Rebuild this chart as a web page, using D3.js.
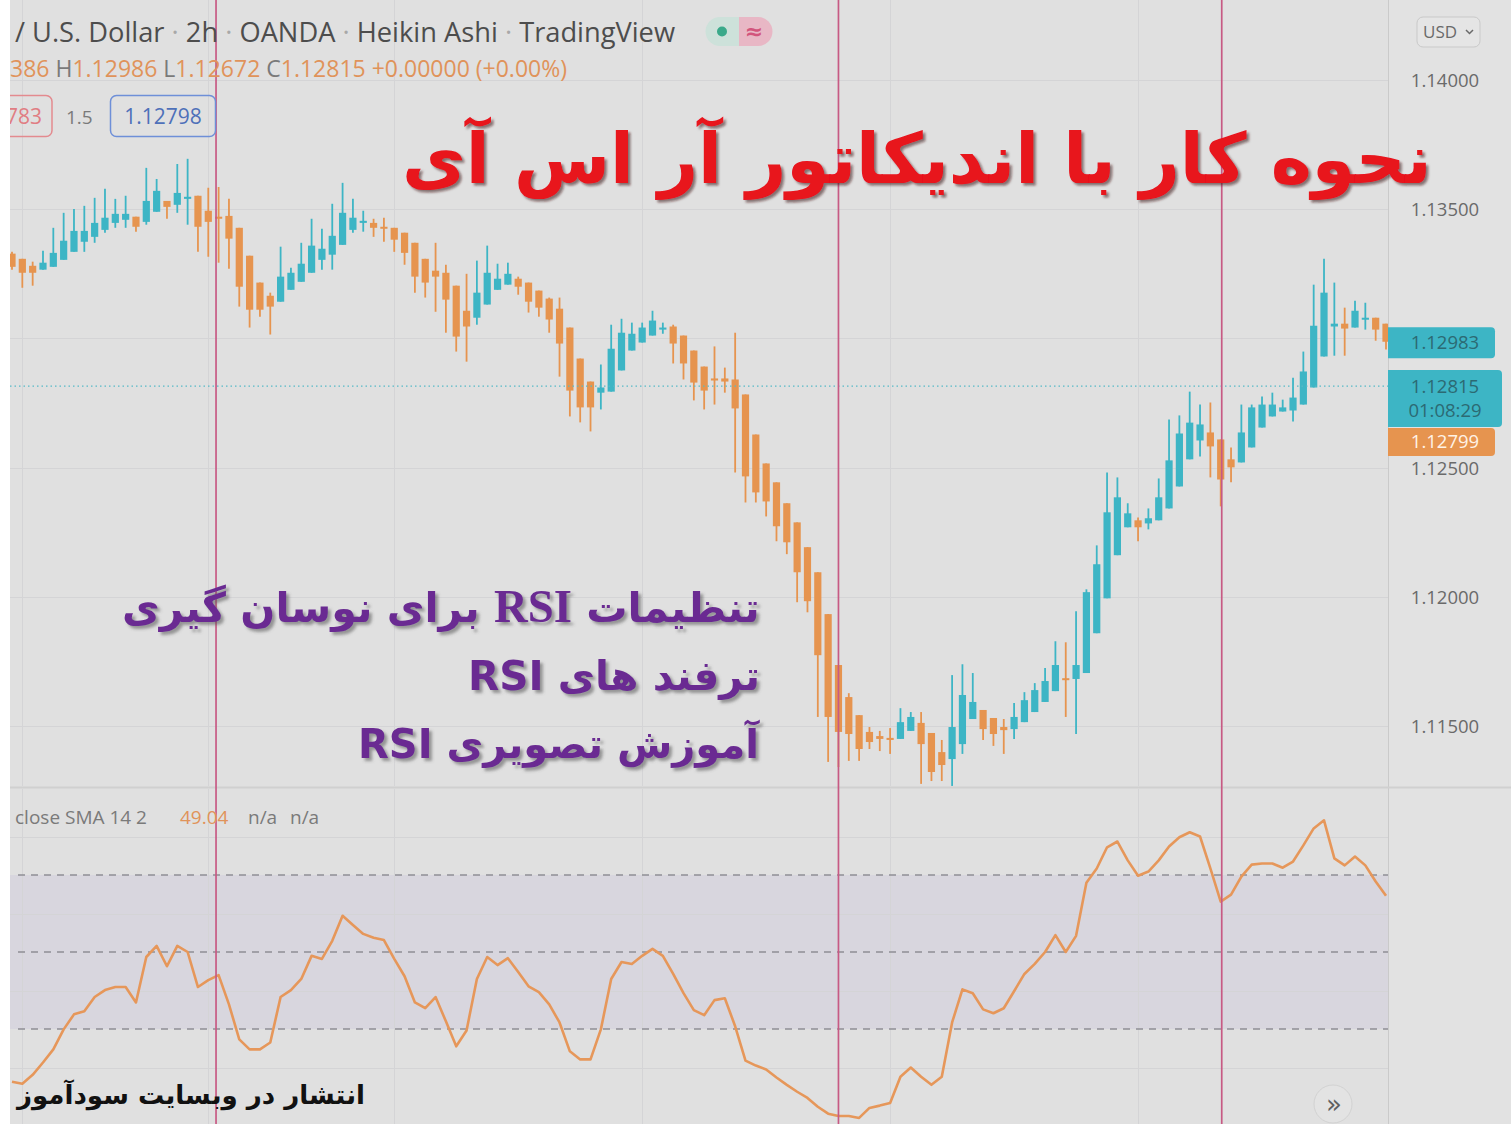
<!DOCTYPE html>
<html><head><meta charset="utf-8">
<script src="https://cdn.jsdelivr.net/npm/d3@7"></script>
<style>html,body{margin:0;padding:0;background:#fff;overflow:hidden}</style>
</head><body><svg id="c" width="1511" height="1127" xmlns="http://www.w3.org/2000/svg"></svg>
<script>
// ---------- DATA (Heikin Ashi candles, EUR/USD 2h) ----------
const open=[1.13328,1.13308,1.13281,1.13266,1.13277,1.13304,1.13335,1.13374,1.13393,1.13420,
1.13447,1.13459,1.13471,1.13451,1.13490,1.13532,1.13517,1.13540,1.13552,1.13494,
1.13471,1.13474,1.13428,1.13320,1.13216,1.13165,1.13142,1.13188,1.13219,1.13254,
1.13304,1.13324,1.13362,1.13420,1.13447,1.13447,1.13432,1.13428,1.13409,1.13370,
1.13308,1.13262,1.13254,1.13204,1.13107,1.13080,1.13131,1.13188,1.13208,1.13231,
1.13216,1.13185,1.13154,1.13115,1.13042,1.12922,1.12833,1.12790,1.12794,1.12876,
1.12953,1.12984,1.13011,1.13034,1.13046,1.13011,1.12953,1.12891,1.12845,1.12845,
1.12841,1.12783,1.12628,1.12516,1.12443,1.12362,1.12288,1.12192,1.12095,1.11933,
1.11736,1.11612,1.11542,1.11477,1.11461,1.11454,1.11450,1.11481,1.11512,1.11473,
1.11399,1.11372,1.11430,1.11527,1.11562,1.11531,1.11496,1.11488,1.11515,1.11554,
1.11593,1.11635,1.11685,1.11682,1.11705,1.11859,1.11994,1.12161,1.12269,1.12296,
1.12284,1.12296,1.12342,1.12427,1.12532,1.12605,1.12636,1.12609,1.12532,1.12520,
1.12578,1.12655,1.12698,1.12717,1.12721,1.12744,1.12810,1.12930,1.13046,1.13057,
1.13042,1.13073,1.13080,1.13057];
const high=[1.13335,1.13308,1.13297,1.13339,1.13428,1.13486,1.13501,1.13513,1.13544,1.13579,
1.13540,1.13552,1.13471,1.13660,1.13617,1.13532,1.13675,1.13695,1.13552,1.13583,
1.13586,1.13540,1.13428,1.13320,1.13216,1.13177,1.13355,1.13273,1.13370,1.13463,
1.13424,1.13521,1.13602,1.13540,1.13494,1.13463,1.13467,1.13428,1.13409,1.13370,
1.13308,1.13370,1.13285,1.13204,1.13250,1.13301,1.13359,1.13289,1.13293,1.13239,
1.13216,1.13185,1.13158,1.13158,1.13042,1.12922,1.12833,1.12899,1.13053,1.13076,
1.13061,1.13061,1.13107,1.13061,1.13053,1.13011,1.12953,1.12891,1.12969,1.12887,
1.13022,1.12783,1.12628,1.12516,1.12443,1.12362,1.12288,1.12192,1.12095,1.11933,
1.11736,1.11627,1.11542,1.11496,1.11481,1.11492,1.11569,1.11554,1.11554,1.11473,
1.11446,1.11697,1.11739,1.11705,1.11562,1.11531,1.11527,1.11589,1.11631,1.11666,
1.11724,1.11828,1.11824,1.11944,1.12029,1.12199,1.12481,1.12462,1.12362,1.12307,
1.12342,1.12458,1.12686,1.12702,1.12794,1.12744,1.12752,1.12609,1.12578,1.12744,
1.12744,1.12775,1.12790,1.12763,1.12848,1.12949,1.13208,1.13308,1.13216,1.13119,
1.13146,1.13138,1.13080,1.13057];
const low=[1.13266,1.13196,1.13204,1.13266,1.13277,1.13304,1.13335,1.13335,1.13370,1.13409,
1.13428,1.13428,1.13413,1.13440,1.13490,1.13463,1.13486,1.13440,1.13335,1.13316,
1.13293,1.13270,1.13123,1.13042,1.13084,1.13015,1.13142,1.13188,1.13219,1.13254,
1.13266,1.13266,1.13362,1.13409,1.13413,1.13393,1.13374,1.13335,1.13285,1.13177,
1.13158,1.13103,1.13022,1.12949,1.12910,1.13053,1.13131,1.13188,1.13208,1.13169,
1.13100,1.13084,1.13022,1.12852,1.12698,1.12675,1.12640,1.12725,1.12794,1.12876,
1.12953,1.12984,1.13011,1.13018,1.12903,1.12841,1.12760,1.12725,1.12744,1.12790,
1.12481,1.12365,1.12365,1.12311,1.12215,1.12165,1.11979,1.11940,1.11535,1.11361,
1.11341,1.11365,1.11365,1.11411,1.11403,1.11392,1.11450,1.11481,1.11276,1.11287,
1.11287,1.11268,1.11392,1.11527,1.11446,1.11423,1.11392,1.11450,1.11515,1.11554,
1.11593,1.11635,1.11535,1.11469,1.11705,1.11859,1.11994,1.12161,1.12269,1.12215,
1.12261,1.12296,1.12342,1.12427,1.12532,1.12543,1.12462,1.12350,1.12443,1.12520,
1.12578,1.12655,1.12698,1.12717,1.12678,1.12744,1.12810,1.12930,1.12933,1.12933,
1.13042,1.13034,1.12991,1.12957];
const close=[1.13277,1.13254,1.13254,1.13293,1.13331,1.13378,1.13416,1.13416,1.13447,1.13467,
1.13482,1.13482,1.13432,1.13532,1.13571,1.13509,1.13563,1.13548,1.13432,1.13451,
1.13463,1.13386,1.13200,1.13111,1.13111,1.13123,1.13239,1.13254,1.13289,1.13359,
1.13347,1.13397,1.13486,1.13467,1.13455,1.13428,1.13428,1.13382,1.13331,1.13239,
1.13216,1.13239,1.13150,1.13007,1.13046,1.13177,1.13254,1.13231,1.13250,1.13200,
1.13142,1.13119,1.13073,1.12980,1.12798,1.12733,1.12733,1.12810,1.12960,1.13022,
1.13018,1.13042,1.13069,1.13042,1.12980,1.12903,1.12829,1.12798,1.12837,1.12833,
1.12729,1.12466,1.12404,1.12369,1.12273,1.12211,1.12095,1.11983,1.11774,1.11535,
1.11477,1.11469,1.11411,1.11438,1.11450,1.11446,1.11515,1.11535,1.11430,1.11322,
1.11349,1.11496,1.11620,1.11593,1.11488,1.11469,1.11484,1.11535,1.11600,1.11639,
1.11674,1.11736,1.11678,1.11736,1.12018,1.12126,1.12327,1.12385,1.12323,1.12269,
1.12304,1.12385,1.12528,1.12632,1.12674,1.12667,1.12582,1.12454,1.12501,1.12636,
1.12733,1.12744,1.12744,1.12733,1.12771,1.12872,1.13049,1.13177,1.13057,1.13038,
1.13107,1.13080,1.13034,1.12987];
// RSI (one value per candle)
const rsi=[16.3,15.8,18.1,21.3,24.7,29.9,33.8,34.6,38.3,40.1,
40.9,40.9,36.9,48.7,51.6,46.3,51.6,50.0,40.9,42.7,
44.0,36.4,27.3,24.7,24.7,26.5,38.3,40.1,43.0,49.0,
48.2,52.9,59.4,57.0,54.7,53.7,53.1,48.2,43.7,36.9,
35.4,38.3,32.0,25.5,29.6,43.0,48.7,46.6,48.4,44.8,
41.1,39.6,36.4,31.7,24.2,22.1,22.1,29.9,43.0,47.4,
46.9,49.0,50.8,49.0,44.3,39.3,34.9,33.6,37.5,38.0,
30.7,21.8,20.5,19.5,17.4,15.5,13.7,12.1,9.8,8.0,
7.4,7.4,6.9,9.5,10.1,10.8,17.6,20.0,17.6,15.5,
17.6,31.7,40.3,39.3,35.1,34.1,35.4,39.8,44.3,46.9,
50.0,54.4,50.0,54.2,68.0,71.7,77.2,78.7,73.8,69.8,
70.9,73.8,77.4,79.8,81.1,80.0,71.7,63.1,64.9,69.6,
72.7,73.0,73.0,71.9,73.5,77.7,82.1,84.2,74.3,72.5,
74.8,72.5,68.3,64.6];
const priceGrid=[1.115,1.12,1.125,1.13,1.135,1.14];
const priceTickLabels=[1.115,1.12,1.125,1.135,1.14];   // 1.13000 is hidden behind the price label
const rsiLevels=[30,50,70];
const rsiGrid=[20,40,60,80];
const timeGrid=[1,19,37,61,85,109];       // day separators (candle index)
const markers=[19.75,80,117.1];            // drawn vertical lines (candle index)
const lastPrice=1.12815;
const priceLabels=[
  {value:1.12983, lines:["1.12983"], kind:"teal"},
  {value:1.12815, lines:["1.12815","01:08:29"], kind:"teal"},
  {value:1.12799, lines:["1.12799"], kind:"orange"}
];
const headerParts=[["/ U.S. Dollar","#4d4d4d"],[" · ","#a8a8a8"],["2h","#4d4d4d"],[" · ","#a8a8a8"],["OANDA","#4d4d4d"],[" · ","#a8a8a8"],["Heikin Ashi","#4d4d4d"],[" · ","#a8a8a8"],["TradingView","#4d4d4d"]];
const ohlcParts=[["386 ","o"],["H","g"],["1.12986 ","o"],["L","g"],["1.12672 ","o"],["C","g"],["1.12815 ","o"],["+0.00000 (+0.00%)","o"]];
const titleText="نحوه کار با اندیکاتور آر اس آی";
const subLines=[
  [["تنظیمات ","s"],["RSI","serif"],[" برای نوسان گیری","s"]],
  [["ترفند های ","s"],["RSI","s"]],
  [["آموزش تصویری ","s"],["RSI","s"]]
];
const footerText="انتشار در وبسایت سودآموز";

// ---------- STYLE ----------
const C={bg:"#e0e0e0",axisBg:"#e2e2e2",grid:"#d4d4d6",teal:"#3db5c5",orange:"#e6944f",
  band:"#d8d6de",dash:"#8f8f95",marker:"#c75a84",rsiLine:"#e6975a",text:"#6f6f6f"};

const svg=d3.select("#c");
const W=1511,H=1127;
const plotL=10,plotR=1388,mainT=0,mainB=786,rsiT=789,rsiB=1124;

const x=d3.scaleLinear().domain([0,133]).range([12,1386]);
const y=d3.scaleLinear().domain([1.115,1.14]).range([726,80]);
const yr=d3.scaleLinear().domain([30,70]).range([1029,875]);

const defs=svg.append("defs");
defs.append("clipPath").attr("id","clipMain").append("rect").attr("x",plotL).attr("y",mainT).attr("width",plotR-plotL).attr("height",mainB-mainT);
defs.append("clipPath").attr("id","clipRsi").append("rect").attr("x",plotL).attr("y",rsiT).attr("width",plotR-plotL).attr("height",rsiB-rsiT);
const f1=defs.append("filter").attr("id","shRed").attr("x","-5%").attr("y","-20%").attr("width","110%").attr("height","140%");
f1.append("feDropShadow").attr("dx",2.5).attr("dy",2.5).attr("stdDeviation",1.2).attr("flood-color","#3a1010").attr("flood-opacity",0.55);
const f2=defs.append("filter").attr("id","shPur").attr("x","-5%").attr("y","-20%").attr("width","110%").attr("height","140%");
f2.append("feDropShadow").attr("dx",3).attr("dy",3).attr("stdDeviation",1.5).attr("flood-color","#555").attr("flood-opacity",0.55);

// backgrounds
svg.append("rect").attr("width",W).attr("height",H).attr("fill","#fff");
svg.append("rect").attr("x",plotL).attr("y",0).attr("width",W-plotL).attr("height",rsiB).attr("fill",C.bg);
svg.append("rect").attr("x",plotR).attr("y",0).attr("width",W-plotR).attr("height",rsiB).attr("fill",C.axisBg);
svg.append("line").attr("x1",plotR+0.5).attr("x2",plotR+0.5).attr("y1",0).attr("y2",rsiB).attr("stroke","#cacaca").attr("stroke-width",1);
svg.append("line").attr("x1",plotL).attr("x2",W).attr("y1",787.5).attr("y2",787.5).attr("stroke","#d0d0d0").attr("stroke-width",2);

// main grid
const gMain=svg.append("g").attr("clip-path","url(#clipMain)");
gMain.selectAll(".hg").data(priceGrid).join("line").attr("x1",plotL).attr("x2",plotR)
  .attr("y1",d=>Math.round(y(d))+0.5).attr("y2",d=>Math.round(y(d))+0.5).attr("stroke",C.grid);
gMain.selectAll(".vg").data(timeGrid).join("line").attr("y1",mainT).attr("y2",mainB)
  .attr("x1",d=>Math.round(x(d))+0.5).attr("x2",d=>Math.round(x(d))+0.5).attr("stroke",C.grid);

// rsi pane
const gR=svg.append("g").attr("clip-path","url(#clipRsi)");
gR.append("rect").attr("x",plotL).attr("width",plotR-plotL).attr("y",yr(70)).attr("height",yr(30)-yr(70)).attr("fill",C.band);
gR.selectAll(".rg").data(rsiGrid).join("line").attr("x1",plotL).attr("x2",plotR)
  .attr("y1",d=>Math.round(yr(d))+0.5).attr("y2",d=>Math.round(yr(d))+0.5).attr("stroke",C.grid);
gR.selectAll(".vg").data(timeGrid).join("line").attr("y1",rsiT).attr("y2",rsiB)
  .attr("x1",d=>Math.round(x(d))+0.5).attr("x2",d=>Math.round(x(d))+0.5).attr("stroke",C.grid);
gR.selectAll(".lv").data(rsiLevels).join("line").attr("x1",plotL+8).attr("x2",plotR)
  .attr("y1",d=>yr(d)).attr("y2",d=>yr(d)).attr("stroke",C.dash).attr("stroke-width",1.6).attr("stroke-dasharray","7,6");

// candles
const idx=d3.range(open.length);
const colorOf=i=>close[i]>=open[i]?C.teal:C.orange;
gMain.selectAll(".wick").data(idx).join("line")
  .attr("x1",i=>x(i)).attr("x2",i=>x(i)).attr("y1",i=>y(high[i])).attr("y2",i=>y(low[i]))
  .attr("stroke",colorOf).attr("stroke-width",1.8);
const bw=7.2;
gMain.selectAll(".body").data(idx).join("rect")
  .attr("x",i=>x(i)-bw/2).attr("width",bw)
  .attr("y",i=>y(Math.max(open[i],close[i])))
  .attr("height",i=>Math.max(2,Math.abs(y(open[i])-y(close[i]))))
  .attr("fill",colorOf);

// current price dotted line
gMain.append("line").attr("x1",plotL).attr("x2",plotR).attr("y1",y(lastPrice)).attr("y2",y(lastPrice))
  .attr("stroke","#57b9c6").attr("stroke-width",1.3).attr("stroke-dasharray","1.5,3");

// RSI line
gR.append("path").datum(rsi).attr("fill","none").attr("stroke",C.rsiLine).attr("stroke-width",2.6)
  .attr("stroke-linejoin","round")
  .attr("d",d3.line().x((d,i)=>x(i)).y(d=>yr(d)));

// marker vertical lines
svg.selectAll(".mk").data(markers).join("line").attr("x1",d=>x(d)).attr("x2",d=>x(d))
  .attr("y1",0).attr("y2",rsiB).attr("stroke",C.marker).attr("stroke-width",1.7);

// price axis
const ax=svg.append("g").attr("transform",`translate(${plotR},0)`)
  .call(d3.axisRight(y).tickValues(priceTickLabels).tickFormat(d3.format(".5f")).tickSize(0));
ax.select(".domain").remove();
ax.selectAll("text").attr("x",57).attr("text-anchor","middle").attr("dy","0.35em")
  .attr("fill","#6a6a6a").style("font-family","Open Sans, sans-serif").style("font-size","18.5px");

// price labels
const lbl=svg.append("g");
priceLabels.forEach((p,k)=>{
  const h=p.lines.length>1?57:(p.kind==="orange"?28:31);
  let top=y(p.value)-15.5;
  if(k===1) top=370;
  if(k===2) top=428;
  const w=p.lines.length>1?114:107;
  lbl.append("path").attr("d",`M${plotR},${top}h${w-4}a4,4 0 0 1 4,4v${h-8}a4,4 0 0 1 -4,4h-${w-4}z`)
    .attr("fill",p.kind==="teal"?C.teal:C.orange);
  p.lines.forEach((t,j)=>{
    lbl.append("text").attr("x",1445).attr("y",p.lines.length>1?top+17+j*24:top+h/2)
      .attr("dy","0.35em").attr("text-anchor","middle").text(t)
      .attr("fill",p.kind==="teal"?"#2c6a73":"#fff2e6")
      .style("font-family","Open Sans, sans-serif").style("font-size","18.5px");
  });
});

// USD box
svg.append("rect").attr("x",1417).attr("y",17).attr("width",63).attr("height",30).attr("rx",6)
  .attr("fill","#e5e5e5").attr("stroke","#c9c9c9");
svg.append("text").attr("x",1423).attr("y",38).text("USD").attr("fill","#6a6a6a")
  .style("font-family","Open Sans, sans-serif").style("font-size","17px");
svg.append("path").attr("d","M1466,30 l3.5,3.5 l3.5,-3.5").attr("fill","none").attr("stroke","#6a6a6a").attr("stroke-width",1.5);

// helper: fit text to a horizontal span
function fit(t,left,right){
  let b=t.node().getBBox();
  const r=(right-left)/b.width;
  t.style("font-size",(parseFloat(t.style("font-size"))*r)+"px");
  t.selectAll("tspan").each(function(){const s=d3.select(this); if(this.style.fontSize) s.style("font-size",(parseFloat(this.style.fontSize)*r)+"px");});
  b=t.node().getBBox();
  t.attr("transform",`translate(${left-b.x},0)`);
}

// header line
const h1=svg.append("text").attr("x",15).attr("y",42).style("font-family","Open Sans, sans-serif").style("font-size","25px");
headerParts.forEach(p=>h1.append("tspan").text(p[0]).attr("fill",p[1]));
fit(h1,15,676);
// pill
svg.append("path").attr("d","M720,17 h19 v29 h-19 a14.5,14.5 0 0 1 0,-29z").attr("fill","#cde1da");
svg.append("path").attr("d","M739,17 h19 a14.5,14.5 0 0 1 0,29 h-19z").attr("fill","#e8b7c5");
svg.append("circle").attr("cx",722).attr("cy",31.5).attr("r",5).attr("fill","#3aa98a");
svg.append("text").attr("x",754).attr("y",39).attr("text-anchor","middle").text("≈").attr("fill","#d2557c")
  .style("font-family","DejaVu Sans, sans-serif").style("font-size","22px").style("font-weight","bold");
// OHLC line
const h2=svg.append("text").attr("x",10).attr("y",77).style("font-family","Open Sans, sans-serif").style("font-size","21px");
ohlcParts.forEach(p=>h2.append("tspan").text(p[0]).attr("fill",p[1]==="o"?"#e0935a":"#7a7a7a"));
fit(h2,10,567);
// boxes line
svg.append("rect").attr("x",-20).attr("y",95.5).attr("width",72).attr("height",41).attr("rx",6).attr("fill","none").attr("stroke","#e38a8f").attr("stroke-width",1.5);
svg.append("text").attr("x",6).attr("y",124).text("783").attr("fill","#e07d83").style("font-family","Open Sans, sans-serif").style("font-size","21px");
svg.append("text").attr("x",66).attr("y",124).text("1.5").attr("fill","#7a7a7a").style("font-family","Open Sans, sans-serif").style("font-size","19px");
svg.append("rect").attr("x",110.5).attr("y",95.5).attr("width",105).attr("height",41).attr("rx",6).attr("fill","none").attr("stroke","#6e8fd8").attr("stroke-width",1.5);
svg.append("text").attr("x",163).attr("y",124).attr("text-anchor","middle").text("1.12798").attr("fill","#4e70b9").style("font-family","Open Sans, sans-serif").style("font-size","21px");
// white strip left edge
svg.append("rect").attr("x",0).attr("y",0).attr("width",plotL).attr("height",H).attr("fill","#fff");
svg.append("rect").attr("x",0).attr("y",rsiB).attr("width",W).attr("height",H-rsiB).attr("fill","#fff");

// RSI legend
const lg=svg.append("text").attr("x",15).attr("y",824).style("font-family","Open Sans, sans-serif").style("font-size","19px");
lg.append("tspan").text("close SMA 14 2").attr("fill","#7a7a7a");
lg.append("tspan").attr("x",180).text("49.04").attr("fill","#e0935a");
lg.append("tspan").attr("x",248).text("n/a").attr("fill","#7a7a7a");
lg.append("tspan").attr("x",290).text("n/a").attr("fill","#7a7a7a");

// scroll button
svg.append("circle").attr("cx",1333).attr("cy",1104).attr("r",19).attr("fill","#e3e3e3").attr("stroke","#d2d2d2");
svg.append("text").attr("x",1334).attr("y",1113).attr("text-anchor","middle").text("»").attr("fill","#5f5f5f")
  .style("font-family","DejaVu Sans, sans-serif").style("font-size","26px");

// Persian title
const fa="DejaVu Sans, sans-serif";
const tt=svg.append("text").attr("y",183).attr("direction","rtl").text(titleText)
  .attr("fill","#e8121c").attr("filter","url(#shRed)")
  .style("font-family",fa).style("font-weight","bold").style("font-size","70px");
fit(tt,402,1432);

const sub=[[122,760,622],[468,760,690],[358,760,758]];
subLines.forEach((ln,k)=>{
  const t=svg.append("text").attr("y",sub[k][2]).attr("direction","rtl")
    .attr("fill","#6a2c92").attr("filter","url(#shPur)")
    .style("font-family",fa).style("font-weight","bold").style("font-size","44px");
  ln.forEach(p=>{
    const s=t.append("tspan").text(p[0]);
    if(p[1]==="serif") s.style("font-family","Liberation Serif, serif").style("font-size","50px");
  });
  fit(t,sub[k][0],sub[k][1]);
});

const ft=svg.append("text").attr("y",1104).attr("direction","rtl").text(footerText)
  .attr("fill","#111").style("font-family",fa).style("font-weight","bold").style("font-size","28px");
fit(ft,15,365);
</script>
</body></html>
